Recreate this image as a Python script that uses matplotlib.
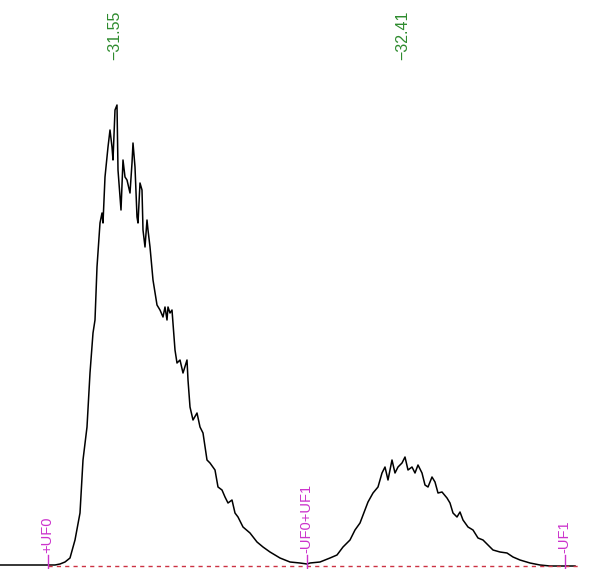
import matplotlib
matplotlib.use('Agg')
import numpy as np
import matplotlib.pyplot as plt

# trace: position (px) and signal (height above baseline)
pos = [0, 55, 60, 65, 70, 75, 80, 83, 87, 90, 93, 95, 97, 100, 102, 103, 105, 108, 110, 112,
       113, 115, 117, 118, 120, 121, 123, 125, 127, 130, 132, 133, 135, 137, 138, 140, 142, 143,
       145, 147, 148, 150, 153, 157, 160, 163, 165, 167, 168, 170, 172, 175, 177, 180, 183, 187,
       188, 190, 193, 197, 200, 203, 207, 210, 215, 218, 222, 225, 228, 232, 235, 238, 243, 250,
       257, 263, 270, 280, 290, 300, 307, 310, 320, 330, 337, 343, 350, 355, 360, 365, 368, 373,
       378, 382, 385, 388, 392, 395, 398, 402, 405, 408, 412, 415, 418, 422, 425, 428, 432, 435,
       438, 442, 447, 450, 453, 457, 460, 463, 468, 473, 478, 483, 488, 493, 500, 507, 513, 520,
       530, 540, 550, 575]
ypix = [565, 565, 564, 562, 558, 540, 513, 460, 427, 373, 333, 320, 267, 223, 213, 223, 177, 147, 130, 147,
        160, 110, 105, 170, 197, 210, 160, 177, 180, 193, 163, 143, 167, 217, 223, 183, 190, 230,
        247, 220, 230, 247, 280, 305, 310, 317, 307, 320, 307, 313, 310, 350, 363, 360, 373, 360,
        380, 407, 420, 413, 427, 433, 460, 463, 470, 487, 490, 497, 503, 500, 513, 517, 527, 533,
        542, 547, 552, 558, 562, 563, 564, 563, 562, 558, 555, 547, 540, 530, 523, 510, 502, 493,
        487, 473, 467, 480, 460, 473, 467, 463, 457, 470, 467, 473, 465, 473, 485, 487, 477, 482,
        493, 492, 498, 503, 513, 517, 512, 520, 527, 530, 538, 540, 545, 550, 552, 553, 557, 560,
        563, 565, 566, 566]
signal = [565 - v for v in ypix]

peak_pos = [115, 403]
peak_labels = ['\u221231.55', '\u221232.41']
mark_pos = [48, 307, 565]
mark_labels = ['+UF0', '-UF0+UF1', '-UF1']

fig = plt.figure(figsize=(5.92, 5.69), dpi=100)
ax = fig.add_axes([0, 0, 1, 1])
ax.set_xlim(0, 592)
ax.set_ylim(-4, 565)
ax.axis('off')

ax.plot(pos, signal, color='black', lw=1.1)
ax.plot([48, 580], [-1, -1], color='#cc3344', lw=1.0, ls=(0, (3, 3)))

for p, t in zip(peak_pos, peak_labels):
    ax.text(p, 554, t, rotation=90, ha='center', va='top', color='#2e8b2e',
            fontsize=11.5, family='Liberation Sans')

for p, t in zip(mark_pos, mark_labels):
    ax.plot([p, p], [-4, 10], color='#cc33cc', lw=1.0)
    ax.text(p - 1, 12, t, rotation=90, ha='center', va='bottom', color='#cc33cc',
            fontsize=10.5, family='Liberation Sans')

fig.savefig('out.png', dpi=100)
